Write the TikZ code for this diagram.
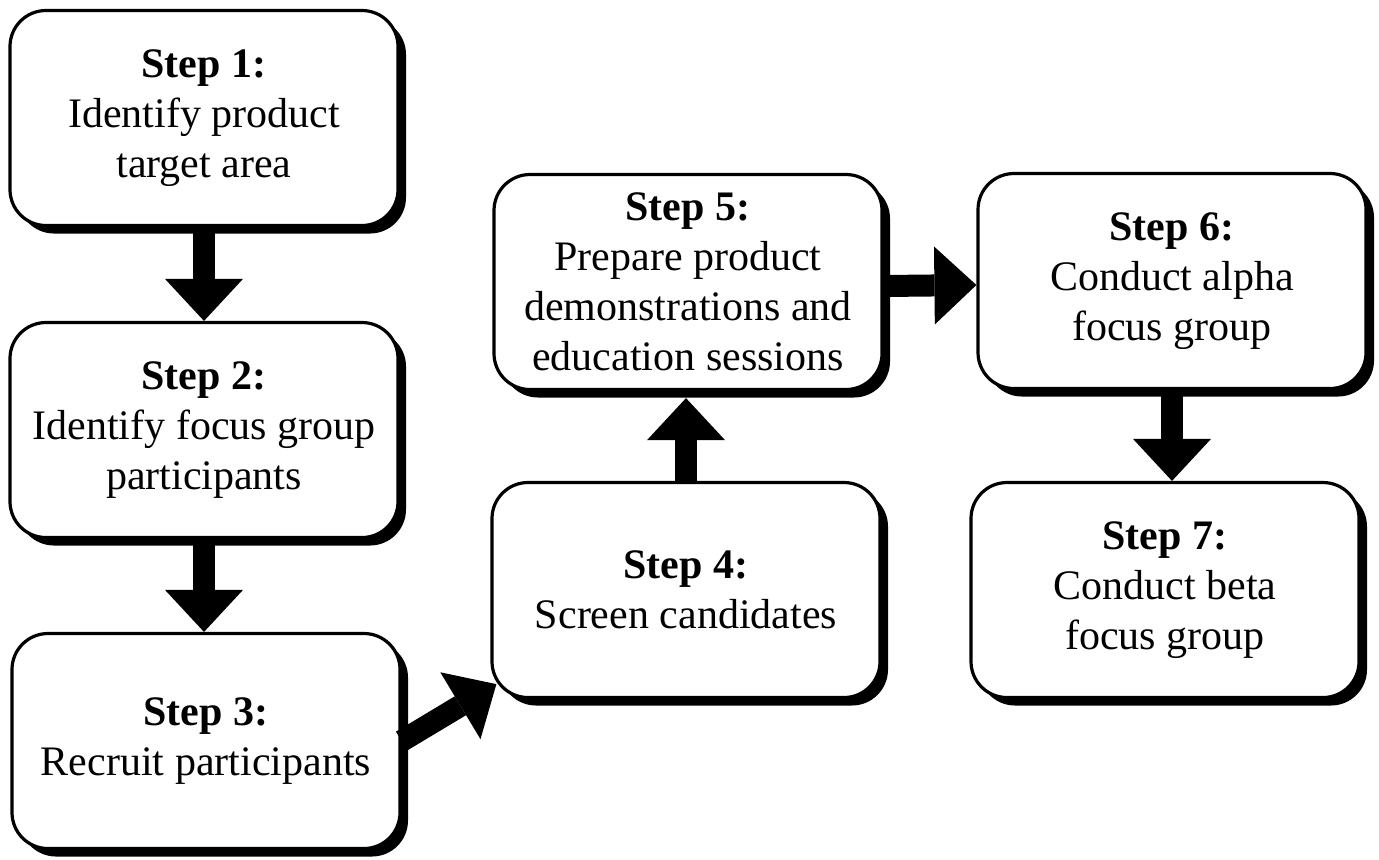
\documentclass[tikz,border=0pt]{standalone}
\usepackage{fontspec}
\setmainfont{Liberation Serif}
\usetikzlibrary{shadows, arrows.meta, calc}
\tikzstyle{stepbox} = [rectangle, rounded corners=18pt, minimum width=194pt, minimum height=107.5pt, draw=black, line width=1.6pt, fill=white, align=center, font=\fontsize{21}{25}\selectfont, drop shadow={shadow xshift=4pt, shadow yshift=-4pt, fill=black, opacity=1}]
\tikzstyle{flowarrow} = [line width=11pt, -{Triangle[width=39pt, length=21pt, line width=0pt]}]

\begin{document}
\begin{tikzpicture}[x=0.5pt, y=-0.5pt]
			\useasboundingbox (0,0) rectangle (1379,859);
			\node (S1) [stepbox] at (204,118) {\textbf{Step 1:}\\Identify product\\target area};
			\node (S2) [stepbox] at (204,430) {\textbf{Step 2:}\\Identify focus group\\participants};
			\node (S3) [stepbox] at (206,741) {\textbf{Step 3:}\\Recruit participants};
			\node (S4) [stepbox] at (686,590) {\textbf{Step 4:}\\Screen candidates};
			\node (S5) [stepbox] at (688,282) {\textbf{Step 5:}\\Prepare product\\demonstrations and\\education sessions};
			\node (S6) [stepbox] at (1172,281) {\textbf{Step 6:}\\Conduct alpha\\focus group};
			\node (S7) [stepbox] at (1165,590) {\textbf{Step 7:}\\Conduct beta\\focus group};
			\draw [flowarrow] (S1) -- (S2);
			\draw [flowarrow] (S2.south) -- (S2.south |- S3.north);
			\draw [flowarrow] (S3.east) -- ($(S4.south west)+(6,-15)$);
			\draw [flowarrow] (S4.north) -- ($(S4.north |- S5.south)+(0,7)$);
			\draw [flowarrow] ($(S5.east)+(0,4)$) -- ($(S6.west)+(0,4)$);
			\draw [flowarrow] (S6.south) -- (S6.south |- S7.north);
		\end{tikzpicture}
\end{document}
